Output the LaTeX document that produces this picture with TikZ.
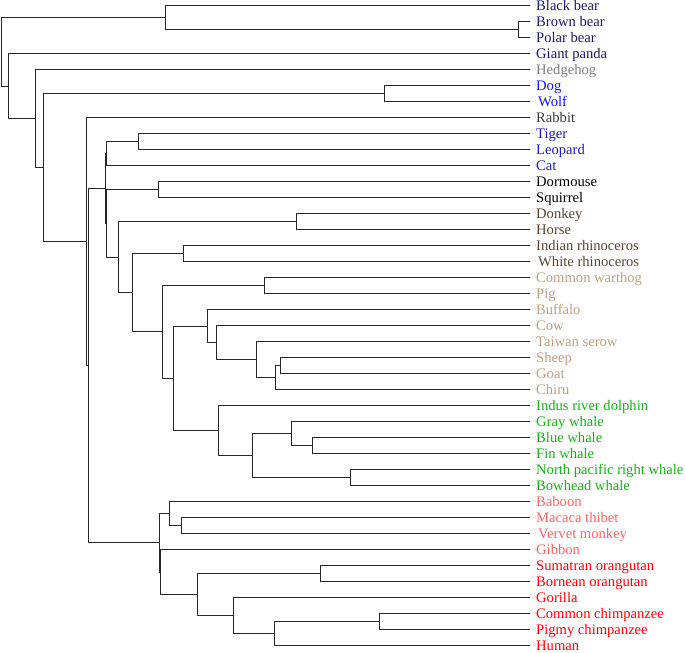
\documentclass[tikz,border=0pt]{standalone}
\usepackage{fontspec}
\setmainfont{Liberation Serif}
\usetikzlibrary{matrix}

\definecolor{bearblue}{RGB}{25,25,110}
\definecolor{hedgegray}{RGB}{128,128,128}
\definecolor{dogblue}{RGB}{20,20,255}
\definecolor{rabbitgray}{RGB}{60,60,60}
\definecolor{catblue}{RGB}{28,28,195}
\definecolor{horsebrown}{RGB}{90,68,45}
\definecolor{pigtan}{RGB}{192,160,125}
\definecolor{whalegreen}{RGB}{20,180,20}
\definecolor{monkeyred}{RGB}{255,100,100}
\definecolor{apered}{RGB}{255,0,0}

\begin{document}
\begin{tikzpicture}[x=1pt,y=-1pt,
  leaves/.style={matrix of nodes,
    row sep=6.4pt, inner sep=0pt,
    cells={nodes={anchor=west, inner xsep=6pt, inner ysep=0pt,
      minimum height=0pt, text height=9.6pt, text depth=0pt,
      font=\fontsize{14.6}{16}\selectfont}}},
  branch/.style={draw=black!85, line width=.9pt}]

\useasboundingbox (0,-0.5) rectangle (685,652);

\matrix[leaves, anchor=north west] (lv) at (530,0.2) {
  |[text=bearblue]| Black bear \\
  |[text=bearblue]| Brown bear \\
  |[text=bearblue]| Polar bear \\
  |[text=bearblue]| Giant panda \\
  |[text=hedgegray]| Hedgehog \\
  |[text=dogblue]| Dog \\
  |[text=dogblue]| \hspace{2pt}Wolf \\
  |[text=rabbitgray]| Rabbit \\
  |[text=catblue]| Tiger \\
  |[text=catblue]| Leopard \\
  |[text=catblue]| Cat \\
  Dormouse \\
  Squirrel \\
  |[text=horsebrown]| Donkey \\
  |[text=horsebrown]| Horse \\
  |[text=horsebrown]| Indian rhinoceros \\
  |[text=horsebrown]| \hspace{2pt}White rhinoceros \\
  |[text=pigtan]| Common warthog \\
  |[text=pigtan]| Pig \\
  |[text=pigtan]| Buffalo \\
  |[text=pigtan]| Cow \\
  |[text=pigtan]| Taiwan serow \\
  |[text=pigtan]| Sheep \\
  |[text=pigtan]| Goat \\
  |[text=pigtan]| Chiru \\
  |[text=whalegreen]| Indus river dolphin \\
  |[text=whalegreen]| Gray whale \\
  |[text=whalegreen]| Blue whale \\
  |[text=whalegreen]| Fin whale \\
  |[text=whalegreen]| North pacific right whale \\
  |[text=whalegreen]| Bowhead whale \\
  |[text=monkeyred]| Baboon \\
  |[text=monkeyred]| Macaca thibet \\
  |[text=monkeyred]| \hspace{2pt}Vervet monkey \\
  |[text=monkeyred]| Gibbon \\
  |[text=apered]| Sumatran orangutan \\
  |[text=apered]| Bornean orangutan \\
  |[text=apered]| Gorilla \\
  |[text=apered]| Common chimpanzee \\
  |[text=apered]| Pigmy chimpanzee \\
  |[text=apered]| Human \\
};

\coordinate (root) at (1,51.25);
\coordinate (bear) at (165,17);
\coordinate (brp) at (518,29);
\coordinate (n8) at (8,85.5);
\coordinate (n35) at (35,118);
\coordinate (n43) at (43,167);
\coordinate (dw) at (384,93);
\coordinate (glr) at (86,241);
\coordinate (eua) at (88,365.1);
\coordinate (lau) at (105,187.9);
\coordinate (fel) at (106,153);
\coordinate (tl) at (138,141);
\coordinate (dshung) at (106,222.8);
\coordinate (ds) at (158,189);
\coordinate (hung) at (118,256.6);
\coordinate (dh) at (296,221);
\coordinate (ung) at (132,292.2);
\coordinate (rh) at (183,253);
\coordinate (art) at (162,331.4);
\coordinate (sp) at (264,285);
\coordinate (cetart) at (173,377.75);
\coordinate (bov) at (207,325.5);
\coordinate (cowc) at (216,342);
\coordinate (cap) at (256,359);
\coordinate (sgc) at (275,377);
\coordinate (sg) at (280,365);
\coordinate (cet) at (218,430);
\coordinate (mys) at (252,455);
\coordinate (gbf) at (291,433);
\coordinate (bf) at (312,445);
\coordinate (rw) at (350,477);
\coordinate (pri) at (159,542.25);
\coordinate (owm) at (169,513);
\coordinate (mv) at (181,525);
\coordinate (ape) at (160,571.5);
\coordinate (ga) at (197,594);
\coordinate (orang) at (320,573);
\coordinate (hom) at (233,615);
\coordinate (hc) at (274,633);
\coordinate (chimp) at (379,621);

\path[branch]
  (root) |- (bear) (root) |- (n8)
  (bear) |- (lv-1-1.west) (bear) |- (brp)
  (brp) |- (lv-2-1.west) (brp) |- (lv-3-1.west)
  (n8) |- (lv-4-1.west) (n8) |- (n35)
  (n35) |- (lv-5-1.west) (n35) |- (n43)
  (n43) |- (dw) (n43) |- (glr)
  (dw) |- (lv-6-1.west) (dw) |- (lv-7-1.west)
  (glr) |- (lv-8-1.west) (glr) |- (eua)
  (eua) |- (lau) (eua) |- (pri)
  (lau) |- (fel) (lau) |- (dshung)
  (fel) |- (tl) (fel) |- (lv-11-1.west)
  (tl) |- (lv-9-1.west) (tl) |- (lv-10-1.west)
  (dshung) |- (ds) (dshung) |- (hung)
  (ds) |- (lv-12-1.west) (ds) |- (lv-13-1.west)
  (hung) |- (dh) (hung) |- (ung)
  (dh) |- (lv-14-1.west) (dh) |- (lv-15-1.west)
  (ung) |- (rh) (ung) |- (art)
  (rh) |- (lv-16-1.west) (rh) |- (lv-17-1.west)
  (art) |- (sp) (art) |- (cetart)
  (sp) |- (lv-18-1.west) (sp) |- (lv-19-1.west)
  (cetart) |- (bov) (cetart) |- (cet)
  (bov) |- (lv-20-1.west) (bov) |- (cowc)
  (cowc) |- (lv-21-1.west) (cowc) |- (cap)
  (cap) |- (lv-22-1.west) (cap) |- (sgc)
  (sgc) |- (sg) (sgc) |- (lv-25-1.west)
  (sg) |- (lv-23-1.west) (sg) |- (lv-24-1.west)
  (cet) |- (lv-26-1.west) (cet) |- (mys)
  (mys) |- (gbf) (mys) |- (rw)
  (gbf) |- (lv-27-1.west) (gbf) |- (bf)
  (bf) |- (lv-28-1.west) (bf) |- (lv-29-1.west)
  (rw) |- (lv-30-1.west) (rw) |- (lv-31-1.west)
  (pri) |- (owm) (pri) |- (ape)
  (owm) |- (lv-32-1.west) (owm) |- (mv)
  (mv) |- (lv-33-1.west) (mv) |- (lv-34-1.west)
  (ape) |- (lv-35-1.west) (ape) |- (ga)
  (ga) |- (orang) (ga) |- (hom)
  (orang) |- (lv-36-1.west) (orang) |- (lv-37-1.west)
  (hom) |- (lv-38-1.west) (hom) |- (hc)
  (hc) |- (chimp) (hc) |- (lv-41-1.west)
  (chimp) |- (lv-39-1.west) (chimp) |- (lv-40-1.west);

\end{tikzpicture}
\end{document}
